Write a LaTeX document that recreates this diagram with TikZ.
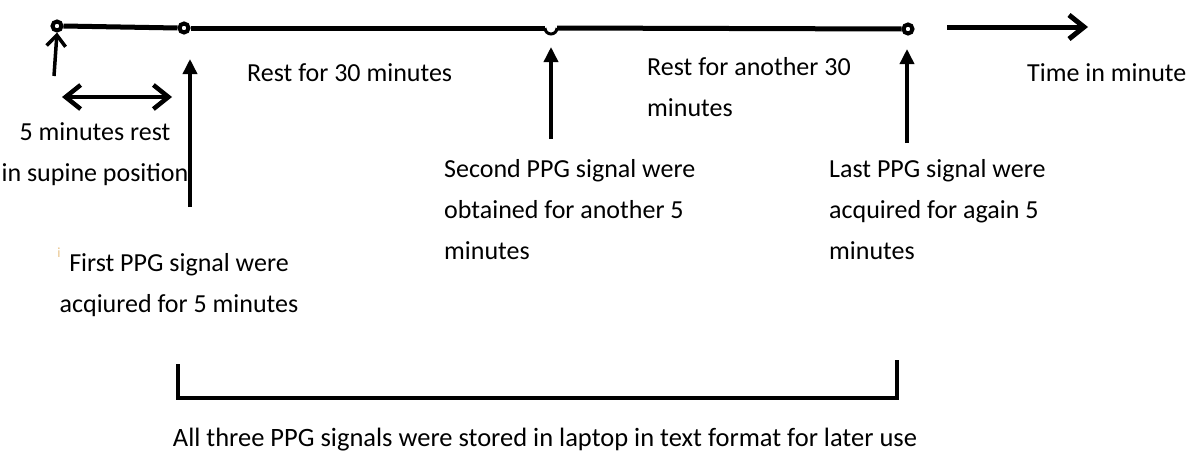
\documentclass[tikz,border=0pt]{standalone}
\usepackage{fontspec}
\setmainfont{Carlito}
\usetikzlibrary{arrows.meta,positioning}
\definecolor{stray}{RGB}{232,196,140}

\tikzset{
  tick/.style={draw,circle,line width=4pt,inner sep=0pt,minimum size=9pt},
  axis/.style={line width=5pt},
  uparrow/.style={-{Triangle[length=15pt,width=14pt]},line width=3.5pt},
  barbarrow/.style={-{Straight Barb[length=15pt,width=24pt]},line width=4pt},
  lbl/.style={font=\fontsize{26}{41}\selectfont,inner sep=0pt,anchor=base west,align=left}
}

\begin{document}
\begin{tikzpicture}[x=1pt,y=-1pt]
  \useasboundingbox (0,0) rectangle (1190,471);

  % time line
  \node[tick] (t0) at (57,26) {};
  \node[tick] (t1) at (184,28) {};
  \node[tick] (t3) at (908,29) {};
  \coordinate (h1) at (545,28);
  \coordinate (h2) at (557,28);
  \draw[axis] (t0.east) -- (t1.west);
  \draw[axis] (t1.east) -- (h1);
  \draw[line width=3pt] (h1) arc (180:0:6);
  \draw[axis] (h2) -- (t3.west);
  \coordinate (ts) at (947,27);
  \coordinate (te) at (1088,27);
  \draw[barbarrow,line width=5pt] (ts) -- (te);

  % arrows under the line
  \coordinate (a0) at (54,76);
  \draw[-{Straight Barb[length=11pt,width=19pt]},line width=3.5pt] (a0) -- (t0.south);
  \coordinate (d1) at (62,97);
  \coordinate (d2) at (172,97);
  \draw[line width=4.5pt,{Straight Barb[length=15pt,width=24pt]}-{Straight Barb[length=15pt,width=24pt]}] (d1) -- (d2);
  \coordinate (a1) at (190,207);
  \coordinate (b1) at (190,59);
  \draw[uparrow] (a1) -- (b1);
  \coordinate (a2) at (551,139);
  \coordinate (b2) at (551,47);
  \draw[uparrow] (a2) -- (b2);
  \coordinate (a3) at (907,143);
  \coordinate (b3) at (907,49);
  \draw[uparrow] (a3) -- (b3);

  % labels (base = last line)
  \node[lbl] (rest1) at (247,81) {Rest for 30 minutes};
  \node[lbl] (rest2) at (647,116) {Rest for another 30\\minutes};
  \node[lbl] (timelbl) at (1027,81) {Time in minute};
  \node[lbl,align=center,anchor=base] (supine) at (95,181) {5 minutes rest\\in supine position};
  \node[lbl] (second) at (444,259) {Second PPG signal were\\obtained for another 5\\minutes};
  \node[lbl] (last) at (829,259) {Last PPG signal were\\acquired for again 5\\minutes};
  \node[lbl,align=center,anchor=base] (first) at (179,312) {First PPG signal were\\acqiured for 5 minutes};
  \node[font=\fontsize{14}{14}\selectfont,text=stray,inner sep=0pt] (dot) at (59,253) {i};

  % bracket
  \coordinate (k1) at (178,364);
  \coordinate (k2) at (178,398);
  \coordinate (k3) at (897,398);
  \coordinate (k4) at (897,360);
  \draw[line width=4.5pt,line join=miter] (k1) -- (k2) -- (k3) -- (k4);
  \node[lbl,anchor=base,font=\fontsize{26.5}{41}\selectfont] (stored) at (545,446) {All three PPG signals were stored in laptop in text format for later use};
\end{tikzpicture}
\end{document}
